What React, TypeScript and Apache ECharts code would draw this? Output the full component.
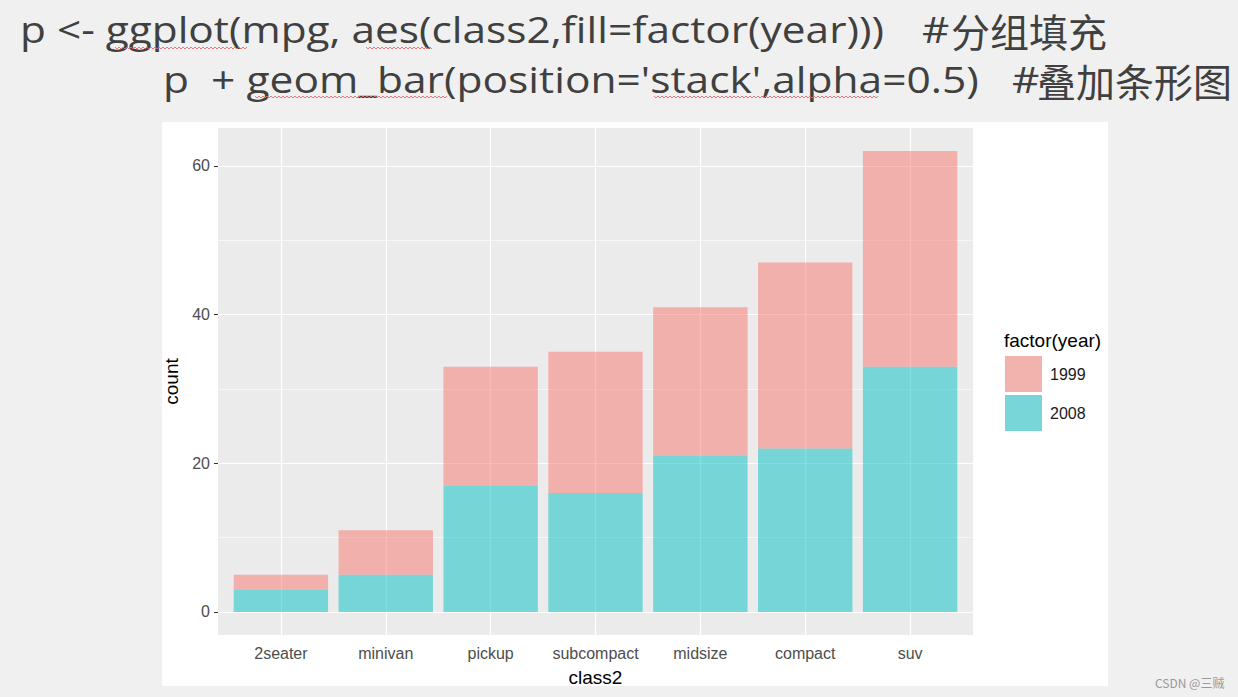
import React, { useEffect, useRef } from "react";
import * as echarts from "echarts";

const categories = ["2seater", "minivan", "pickup", "subcompact", "midsize", "compact", "suv"];
const count2008 = [3, 5, 17, 16, 21, 22, 33];
const count1999 = [2, 6, 16, 19, 20, 25, 29];
const yMajor = [0, 20, 40, 60];
const yMinor = [10, 30, 50];
const code1 = "p <- ggplot(mpg, aes(class2,fill=factor(year)))";
const note1 = "分组填充";
const code2 = "p  + geom_bar(position='stack',alpha=0.5)";
const note2 = "叠加条形图";

function squiggle(x0: number, x1: number, y: number) {
  const pts: number[][] = [];
  let up = true;
  for (let x = x0; x <= x1; x += 2) {
    pts.push([x, up ? y - 1 : y + 1]);
    up = !up;
  }
  return {
    type: "polyline",
    silent: true,
    shape: { points: pts },
    style: { stroke: "#e86a6a", lineWidth: 0.9, fill: "none" },
  };
}

export default function App() {
  const ref = useRef<HTMLDivElement>(null);
  useEffect(() => {
    if (!ref.current) return;
    const chart = echarts.init(ref.current, null, { renderer: "svg" });
    const lineWhite = (w: number) => ({ color: "#ffffff", width: w, type: "solid" as const });
    const hMarks: any[] = [];
    yMajor.forEach((v) => hMarks.push({ yAxis: v, lineStyle: lineWhite(1.2) }));
    yMinor.forEach((v) => hMarks.push({ yAxis: v, lineStyle: lineWhite(0.6) }));
    const vMarks: any[] = categories.map((c) => ({ xAxis: c, lineStyle: lineWhite(1.2) }));
    const axisFont = "'Liberation Sans', Arial, sans-serif";
    const latinFont = "'Open Sans', sans-serif";
    const cjkFont = "'Noto Sans CJK SC', sans-serif";
    const panelLeft = 218;
    const panelRight = 1238 - 973;
    const band = (973 - 218) / 7.2;
    const inset = band * 0.1;
    const titleText = (text: string, x: number, y: number, font: string, size: number, sx: number) => ({
      type: "text",
      x,
      y,
      scaleX: sx,
      style: { text, fontSize: size, fontFamily: font, fill: "#404040", verticalAlign: "middle" },
    });
    const option: any = {
      animation: false,
      backgroundColor: "transparent",
      grid: [
        {
          left: panelLeft,
          top: 128,
          right: panelRight,
          bottom: 62,
          show: true,
          backgroundColor: "#ebebeb",
          borderWidth: 0,
        },
        {
          left: panelLeft + inset,
          top: 128,
          right: panelRight + inset,
          bottom: 62,
          show: false,
        },
      ],
      xAxis: [
        { gridIndex: 0, type: "value", min: 0, max: 1, show: false },
        {
          gridIndex: 1,
          type: "category",
          data: categories,
          boundaryGap: true,
          axisLine: { show: false },
          splitLine: { show: false },
          axisTick: { show: true, alignWithLabel: true, length: 4, lineStyle: { color: "#333333", width: 1 } },
          axisLabel: {
            interval: 0,
            margin: 10,
            color: "#4d4d4d",
            fontSize: 16,
            fontFamily: axisFont,
          },
          name: "class2",
          nameLocation: "middle",
          nameGap: 33,
          nameTextStyle: { color: "#000000", fontSize: 19, fontFamily: axisFont },
        },
      ],
      yAxis: [
        {
          gridIndex: 0,
          type: "value",
          min: -3.1,
          max: 65.1,
          axisLine: { show: false },
          splitLine: { show: false },
          axisTick: { show: true, customValues: yMajor, length: 4, lineStyle: { color: "#333333", width: 1 } },
          axisLabel: {
            customValues: yMajor,
            margin: 8,
            color: "#4d4d4d",
            fontSize: 16,
            fontFamily: axisFont,
          },
          name: "count",
          nameLocation: "middle",
          nameGap: 28,
          nameTextStyle: { color: "#000000", fontSize: 19, fontFamily: axisFont },
        },
        { gridIndex: 1, type: "value", min: -3.1, max: 65.1, show: false },
      ],
      legend: {
        orient: "vertical",
        left: 1000,
        top: 351,
        padding: 5,
        itemWidth: 37,
        itemHeight: 36,
        itemGap: 3,
        icon: "rect",
        textStyle: { color: "#1a1a1a", fontSize: 16, fontFamily: axisFont, padding: [0, 0, 0, 3] },
        data: [
          { name: "1999", itemStyle: { color: "#f2b3ae" } },
          { name: "2008", itemStyle: { color: "#79d6d8" } },
        ],
      },
      graphic: [
        titleText(code1, 20, 29, latinFont, 37, 1.145),
        titleText("#", 922, 29, latinFont, 37, 1.145),
        titleText(note1, 951, 30, cjkFont, 39, 1),
        titleText(code2, 163, 79, latinFont, 37, 1.149),
        titleText("#", 1012, 79, latinFont, 37, 1.145),
        titleText(note2, 1037, 80, cjkFont, 39, 1),
        squiggle(115, 248, 48),
        squiggle(366, 433, 48),
        squiggle(255, 447, 97),
        squiggle(654, 878, 97),
        {
          type: "text",
          x: 1004,
          y: 340,
          style: {
            text: "factor(year)",
            fontSize: 19,
            fontFamily: axisFont,
            fill: "#000000",
            verticalAlign: "middle",
          },
        },
        {
          type: "text",
          x: 1155,
          y: 682,
          style: {
            text: "CSDN @三贼",
            fontSize: 12,
            fontFamily: cjkFont,
            fill: "#999999",
            verticalAlign: "middle",
          },
        },
      ],
      series: [
        {
          type: "line",
          xAxisIndex: 0,
          yAxisIndex: 0,
          data: [],
          z: 1,
          silent: true,
          markLine: {
            z: 1,
            silent: true,
            symbol: ["none", "none"],
            label: { show: false },
            emphasis: { disabled: true },
            data: hMarks,
          },
        },
        {
          type: "line",
          xAxisIndex: 1,
          yAxisIndex: 1,
          data: [],
          z: 1,
          silent: true,
          markLine: {
            z: 1,
            silent: true,
            symbol: ["none", "none"],
            label: { show: false },
            emphasis: { disabled: true },
            data: vMarks,
          },
        },
        {
          name: "2008",
          type: "bar",
          xAxisIndex: 1,
          yAxisIndex: 1,
          stack: "total",
          z: 10,
          barWidth: "90%",
          itemStyle: { color: "rgba(0,191,196,0.5)" },
          emphasis: { disabled: true },
          data: count2008,
        },
        {
          name: "1999",
          type: "bar",
          xAxisIndex: 1,
          yAxisIndex: 1,
          stack: "total",
          z: 10,
          barWidth: "90%",
          itemStyle: { color: "rgba(248,118,109,0.5)" },
          emphasis: { disabled: true },
          data: count1999,
        },
      ],
    };
    chart.setOption(option);
    return () => chart.dispose();
  }, []);

  return (
    <div style={{ position: "fixed", left: 0, top: 0, width: 1238, height: 697, background: "#f0f0f0" }}>
      <div style={{ position: "absolute", left: 162, top: 122, width: 946, height: 564, background: "#ffffff" }} />
      <div ref={ref} style={{ position: "absolute", left: 0, top: 0, width: 1238, height: 697 }} />
    </div>
  );
}
